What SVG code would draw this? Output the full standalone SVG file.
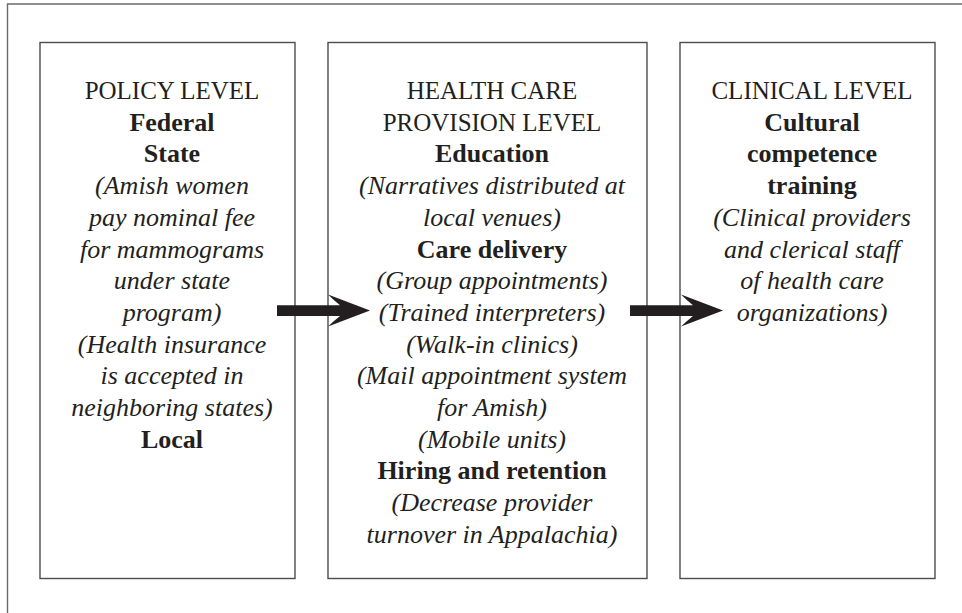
<svg xmlns="http://www.w3.org/2000/svg" xmlns:xlink="http://www.w3.org/1999/xlink" width="962" height="613" viewBox="0 0 962 613">
  <style>
    .frame { fill: none; stroke: #6a6a6a; stroke-width: 1.4; }
    .box { fill: #ffffff; stroke: #4d4d4d; stroke-width: 1.4; }
    text { font-family: "Liberation Serif", "Times New Roman", serif; font-size: 26px; fill: #231f20; text-anchor: middle; }
    .head { font-size: 25px; }
    .b { font-weight: bold; }
    .i { font-style: italic; }
    .arrow { fill: #231f20; }
  </style>
  <defs>
    <!-- thick block arrow with swept-back head; origin at tail, centred on shaft -->
    <path id="blockArrow" d="M0,-5.3 L63,-5.3 Q57,-10 51,-16 L93,0 L51,16 Q57,10 63,5.3 L0,5.3 Z"/>
  </defs>

  <rect width="962" height="613" fill="#ffffff"/>

  <!-- outer frame (top and left rules) -->
  <path class="frame" d="M7.5,613 L7.5,4 L962,4"/>

  <g id="policy-level">
    <rect class="box" x="40" y="42.5" width="255" height="536"/>
    <text class="head" x="172" y="99">POLICY LEVEL</text>
    <text class="b" x="172" y="130.7">Federal</text>
    <text class="b" x="172" y="162.4">State</text>
    <text class="i" x="172" y="194.1">(Amish women</text>
    <text class="i" x="172" y="225.8">pay nominal fee</text>
    <text class="i" x="172" y="257.5">for mammograms</text>
    <text class="i" x="172" y="289.2">under state</text>
    <text class="i" x="172" y="320.9">program)</text>
    <text class="i" x="172" y="352.6">(Health insurance</text>
    <text class="i" x="172" y="384.3">is accepted in</text>
    <text class="i" x="172" y="416">neighboring states)</text>
    <text class="b" x="172" y="447.7">Local</text>
  </g>

  <g id="health-care-provision-level">
    <rect class="box" x="328" y="42.5" width="319" height="536"/>
    <text class="head" x="492" y="99">HEALTH CARE</text>
    <text class="head" x="492" y="130.7">PROVISION LEVEL</text>
    <text class="b" x="492" y="162.4">Education</text>
    <text class="i" x="492" y="194.1">(Narratives distributed at</text>
    <text class="i" x="492" y="225.8">local venues)</text>
    <text class="b" x="492" y="257.5">Care delivery</text>
    <text class="i" x="492" y="289.2">(Group appointments)</text>
    <text class="i" x="492" y="320.9">(Trained interpreters)</text>
    <text class="i" x="492" y="352.6">(Walk-in clinics)</text>
    <text class="i" x="492" y="384.3">(Mail appointment system</text>
    <text class="i" x="492" y="416">for Amish)</text>
    <text class="i" x="492" y="447.7">(Mobile units)</text>
    <text class="b" x="492" y="479.4">Hiring and retention</text>
    <text class="i" x="492" y="511.1">(Decrease provider</text>
    <text class="i" x="492" y="542.8">turnover in Appalachia)</text>
  </g>

  <g id="clinical-level">
    <rect class="box" x="680" y="42.5" width="255" height="536"/>
    <text class="head" x="812" y="99">CLINICAL LEVEL</text>
    <text class="b" x="812" y="130.7">Cultural</text>
    <text class="b" x="812" y="162.4">competence</text>
    <text class="b" x="812" y="194.1">training</text>
    <text class="i" x="812" y="225.8">(Clinical providers</text>
    <text class="i" x="812" y="257.5">and clerical staff</text>
    <text class="i" x="812" y="289.2">of health care</text>
    <text class="i" x="812" y="320.9">organizations)</text>
  </g>

  <g id="connectors">
    <use class="arrow" xlink:href="#blockArrow" href="#blockArrow" transform="translate(277,310.6)"/>
    <use class="arrow" xlink:href="#blockArrow" href="#blockArrow" transform="translate(630,310.6)"/>
  </g>
</svg>
